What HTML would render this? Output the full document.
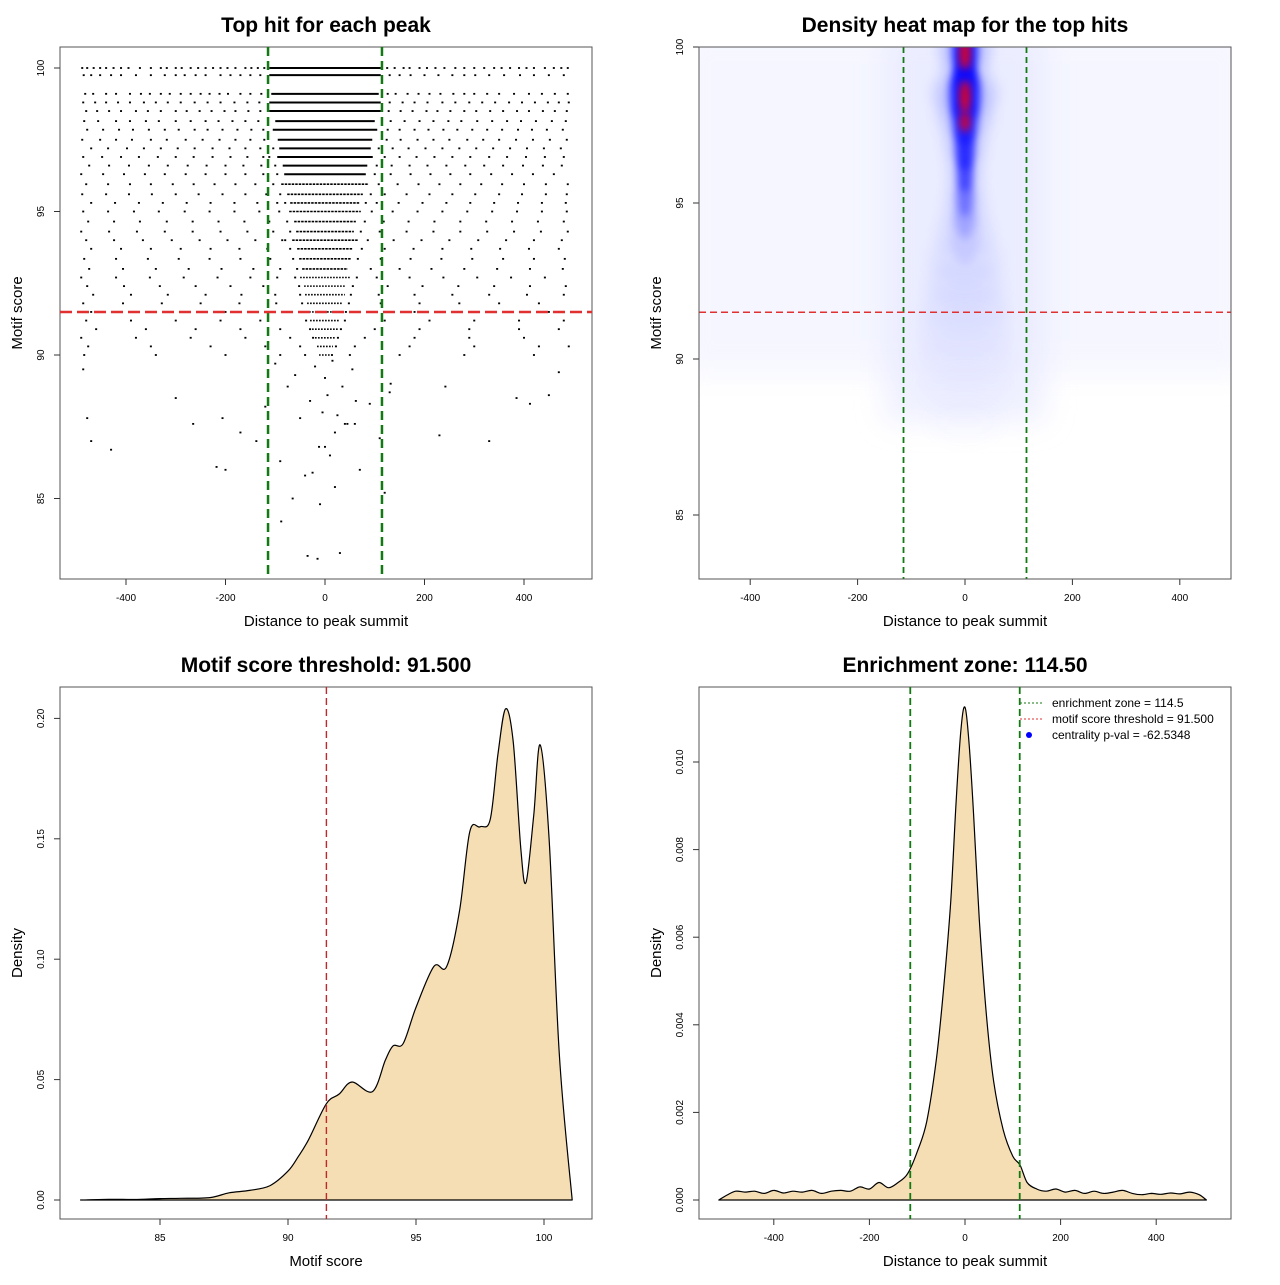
<!DOCTYPE html>
<html><head><meta charset="utf-8"><style>
body{margin:0;background:#fff;font-family:"Liberation Sans",sans-serif}
svg text{font-family:"Liberation Sans",sans-serif}
</style></head><body>
<svg id="root" width="1280" height="1280" xmlns="http://www.w3.org/2000/svg">
<defs>
<filter id="blur" x="-50%" y="-50%" width="200%" height="200%"><feGaussianBlur stdDeviation="7"/></filter>
<filter id="blurS" x="-50%" y="-50%" width="200%" height="200%"><feGaussianBlur stdDeviation="4"/></filter>
<filter id="blur2" x="-50%" y="-50%" width="200%" height="200%"><feGaussianBlur stdDeviation="14"/></filter>
<clipPath id="clip2"><rect x="699" y="47" width="532" height="532"/></clipPath>
</defs>
</svg>
<script>
// ---- Panel 1 data: scatter rows ----
const rowScores=[100,99.75,99.1,98.8,98.5,98.15,97.85,97.5,97.2,96.9,96.6,96.3,95.95,95.6,95.3,95.0,94.65,94.3,94.0,93.7,93.35,93.0,92.7,92.4,92.1,91.8,91.5,91.2,90.9,90.6,90.3,90.0];
const coreHalf=[112,112,108,112,112,100,105,95,92,96,85,82,88,76,70,72,62,58,66,56,52,46,50,42,40,36,32,30,26,20,16,12];
const rowOuter=[
[-488,-478,-465,-452,-440,-425,-410,-395,-372,-350,-330,-318,-300,-288,-270,-255,-240,-225,-210,-196,-180,-160,-148,-135,-122,125,140,158,170,190,205,222,240,262,280,300,320,340,355,372,390,405,420,442,460,475,488],
[-485,-470,-452,-430,-410,-380,-350,-322,-300,-282,-260,-240,-210,-190,-170,-150,-130,130,150,172,200,228,256,280,302,330,360,392,420,450,480],
[-482,-466,-440,-420,-392,-370,-352,-330,-312,-290,-270,-250,-232,-212,-195,-170,-150,-128,126,142,166,188,210,232,258,280,300,326,350,380,410,436,462,488],
[-486,-462,-440,-416,-392,-364,-340,-316,-290,-262,-236,-210,-182,-156,-132,130,156,180,206,236,262,290,316,342,370,396,422,448,470,490],
[-480,-458,-434,-410,-380,-356,-330,-300,-278,-252,-228,-202,-180,-154,-130,128,152,176,204,226,252,280,304,332,358,386,410,438,462,486],
[-484,-456,-420,-392,-360,-334,-300,-270,-240,-214,-186,-160,-134,132,160,190,218,248,274,306,336,366,394,424,456,484],
[-478,-446,-414,-386,-354,-322,-294,-262,-236,-206,-176,-148,-124,126,150,180,208,238,266,296,326,356,388,416,446,478],
[-488,-452,-420,-388,-350,-318,-280,-246,-212,-180,-150,-122,124,152,186,218,250,286,318,350,384,418,452,486],
[-470,-436,-398,-364,-330,-296,-262,-226,-192,-160,-130,-104,108,136,168,202,236,270,304,338,372,406,440,474],
[-486,-448,-410,-374,-336,-300,-264,-226,-190,-156,-124,-112,120,150,184,220,256,292,330,366,404,442,480],
[-474,-434,-394,-354,-316,-276,-238,-200,-164,-128,-100,104,134,170,206,244,282,320,358,398,438,476],
[-490,-446,-404,-362,-322,-280,-240,-200,-160,-124,-96,100,132,172,212,252,292,334,376,418,460],
[-480,-436,-392,-350,-306,-264,-222,-180,-140,-104,108,146,188,230,272,314,356,400,444,488],
[-488,-440,-394,-348,-300,-254,-206,-160,-118,-90,92,120,164,210,256,302,350,396,444,486],
[-470,-422,-374,-326,-278,-230,-182,-136,-96,-80,82,104,148,196,244,292,340,388,436,484],
[-486,-436,-384,-334,-282,-232,-182,-132,-92,94,136,186,236,286,336,386,436,486],
[-476,-424,-372,-318,-266,-214,-162,-112,-76,80,118,168,220,272,324,376,428,480],
[-490,-434,-378,-322,-266,-210,-156,-104,-70,72,110,164,218,272,326,380,434,488],
[-480,-424,-366,-308,-252,-196,-140,-86,-80,86,138,194,250,308,364,420,476],
[-470,-410,-350,-290,-230,-172,-116,-70,74,120,178,236,294,352,410,470],
[-484,-420,-356,-294,-232,-170,-110,-64,66,112,172,234,296,358,420,482],
[-474,-406,-340,-274,-208,-144,-90,-56,92,150,214,280,346,412,478],
[-490,-420,-352,-284,-216,-150,-96,-60,64,104,170,238,306,374,442],
[-478,-404,-332,-260,-190,-124,-52,56,126,196,268,340,412,484],
[-466,-390,-316,-240,-168,-100,-50,52,108,180,256,330,406,480],
[-486,-406,-328,-250,-172,-98,-46,48,112,190,270,350,430],
[-470,-380,-290,-200,-118,-40,42,96,180,270,360,450],
[-480,-390,-300,-210,-130,-38,40,120,210,300,390,480],
[-460,-360,-260,-170,-90,-30,32,100,190,290,390,470],
[-490,-380,-270,-160,-70,-24,26,80,180,290,400],
[-476,-350,-230,-120,-50,22,60,170,300,430,490],
[-484,-340,-200,-90,-40,14,50,150,280,420]
];
const lowX=[-430,-478,-470,-486,-300,-265,-218,-206,-138,-50,-30,-12,5,20,40,62,90,110,130,230,242,330,385,412,450,470,-100,-60,-20,0,15,35,55,-75,-5,25,-120,-170,-40,10,45,-90,-25,70,120,-200,-65,-10,20,-35,30,-15,0,60,-88,132];
const lowS=[86.7,87.8,87.0,89.5,88.5,87.6,86.1,87.8,87.0,87.8,88.4,86.8,88.6,87.3,87.6,88.4,88.3,87.1,88.7,87.2,88.9,87.0,88.5,88.3,88.6,89.4,89.7,89.3,89.6,89.2,89.8,88.9,89.5,88.9,88.0,87.9,88.2,87.3,85.8,86.5,87.6,86.3,85.9,86.0,85.2,86.0,85.0,84.8,85.4,83.0,83.1,82.9,86.8,87.6,84.2,89.0];

// ---- Panel 2 data: heat-map ridge along x=0 ----
const hmScores=[100,99.3,98.5,97.8,97.0,96.3,95.5,94.8,94.0,93.2,92.4,91.6,90.8,90.0,89.0,88.0];
const hmHalfWidth=[20,16,24,20,15,12,12,16,22,28,30,34,36,36,34,30];
const hmIntensity=[1.0,0.95,1.0,0.9,0.85,0.75,0.6,0.45,0.35,0.3,0.28,0.22,0.15,0.1,0.07,0.05];
const hmHot=[100,99.6,98.6,98.2,97.6];

// ---- Panel 3 data: score density ----
const scoreX=[81.9,83,84,85,85.8,86.95,87.7,88.5,89.3,90,90.4,90.8,91.5,92,92.5,93.3,93.8,94.1,94.5,95,95.7,96.2,96.7,97.1,97.5,97.9,98.2,98.5,98.8,99.1,99.3,99.6,99.85,100.2,100.6,101.1];
const scoreD=[0,0.0003,0.0002,0.0006,0.0007,0.001,0.003,0.004,0.006,0.012,0.018,0.025,0.04,0.044,0.049,0.045,0.058,0.064,0.065,0.08,0.097,0.097,0.12,0.153,0.155,0.158,0.185,0.204,0.19,0.145,0.132,0.16,0.189,0.15,0.06,0];
const scoreTicks=[85,90,95,100];
const densTicks3=[0,0.05,0.10,0.15,0.20];

// ---- Panel 4 data: distance density ----
const distX=[-515,-500,-480,-460,-440,-420,-400,-380,-360,-340,-320,-300,-280,-260,-240,-220,-200,-180,-160,-140,-120,-100,-80,-60,-45,-30,-18,-8,0,8,18,30,45,60,80,100,115,130,150,170,190,210,230,250,270,290,310,330,350,370,390,410,430,450,470,490,505];
const distD=[0,0.0001,0.0002,0.00018,0.0002,0.00015,0.00022,0.00016,0.0002,0.00018,0.00022,0.00015,0.0002,0.00022,0.0002,0.0003,0.00025,0.0004,0.00028,0.0004,0.0006,0.0011,0.0018,0.0032,0.0048,0.0068,0.0092,0.0108,0.01125,0.0105,0.0088,0.0064,0.0042,0.0027,0.0016,0.0010,0.0008,0.0004,0.00025,0.0002,0.00025,0.00018,0.00022,0.00015,0.0002,0.00015,0.00018,0.00022,0.00015,0.00012,0.00015,0.00013,0.00016,0.00014,0.00018,0.00012,0];
const distTicks=[-400,-200,0,200,400];
const densTicks4=[0,0.002,0.004,0.006,0.008,0.010];

const NS="http://www.w3.org/2000/svg";
const root=document.getElementById('root');
function mk(tag,attrs,parent,text){const e=document.createElementNS(NS,tag);for(const k in attrs)e.setAttribute(k,attrs[k]);if(text!==undefined)e.textContent=text;(parent||root).appendChild(e);return e;}
function smooth(p){let d='M'+p[0][0].toFixed(1)+','+p[0][1].toFixed(1);
  for(let i=0;i<p.length-1;i++){const a=p[i-1]||p[i],b=p[i],c=p[i+1],e=p[i+2]||c;
    const c1=[b[0]+(c[0]-a[0])/6,b[1]+(c[1]-a[1])/6],c2=[c[0]-(e[0]-b[0])/6,c[1]-(e[1]-b[1])/6];
    d+=` C${c1[0].toFixed(1)},${c1[1].toFixed(1)} ${c2[0].toFixed(1)},${c2[1].toFixed(1)} ${c[0].toFixed(1)},${c[1].toFixed(1)}`;}
  return d+' Z';}

// axis functions
const x1=v=>325+v*0.4975, y1=s=>68+(100-s)*28.7;
const x2=v=>965+v*0.537, y2=s=>47+(100-s)*31.2;
const x3=v=>160+(v-85)*25.6, y3=d=>1200-d*2408;
const x4=v=>965+v*0.478, y4=d=>1200-d*43800;

function panelFrame(name,bx,by,title,xlab,ylab,xt,xtf,yt,ytf,ytxt){
  const g=mk('g',{});
  
  
  const r=mk('rect',{x:bx,y:by,width:532,height:532,fill:'none',stroke:'#555','stroke-width':1},g);
  
  const t=mk('text',{x:bx+266,y:by-15,'text-anchor':'middle','font-size':21,'font-weight':'bold'},g,title);
  
  const xl=mk('text',{x:bx+266,y:by+579,'text-anchor':'middle','font-size':15},g,xlab);
  
  const yl=mk('text',{transform:`translate(${bx-38},${by+266}) rotate(-90)`,'text-anchor':'middle','font-size':15},g,ylab);
  
  xt.forEach(v=>{const px=xtf(v);
    mk('line',{x1:px,x2:px,y1:by+532,y2:by+538,stroke:'#333'},g);
    const tl=mk('text',{x:px,y:by+554,'text-anchor':'middle','font-size':10},g,String(v));
    });
  yt.forEach((v,i)=>{const py=ytf(v);
    mk('line',{x1:bx-6,x2:bx,y1:py,y2:py,stroke:'#333'},g);
    const tl=mk('text',{transform:`translate(${bx-16},${py}) rotate(-90)`,'text-anchor':'middle','font-size':10},g,ytxt[i]);
    });
  return g;
}

// ---------- Panel 1 ----------
const g1=panelFrame('scatter-panel',60,47,'Top hit for each peak','Distance to peak summit','Motif score',distTicks,x1,[85,90,95,100],y1,['85','90','95','100']);
const pts=mk('g',{fill:'#000'},g1);

rowScores.forEach((s,i)=>{
  const py=y1(s);
  const core=mk('line',{x1:x1(-coreHalf[i]),x2:x1(coreHalf[i]),y1:py,y2:py,stroke:'#000','stroke-width':i<12?2:1.6,'stroke-dasharray':i<12?'none':(i<22?'2.5 1':'1.6 1.4')},pts);
  
  rowOuter[i].forEach(v=>{const d=mk('rect',{x:x1(v)-1,y:py-0.9,width:2,height:1.8},pts);
    });
});
lowX.forEach((v,i)=>{const d=mk('rect',{x:x1(v)-1,y:y1(lowS[i])-0.9,width:2,height:1.8},pts);
  });
[-114.5,114.5].forEach(v=>{const l=mk('line',{x1:x1(v),x2:x1(v),y1:47,y2:579,stroke:'#137a13','stroke-width':2.5,'stroke-dasharray':'9 5'},g1);
  });
const th1=mk('line',{x1:60,x2:592,y1:y1(91.5),y2:y1(91.5),stroke:'#e03030','stroke-width':2.5,'stroke-dasharray':'12 5'},g1);


// ---------- Panel 2 ----------
const g2=panelFrame('heatmap-panel',699,47,'Density heat map for the top hits','Distance to peak summit','Motif score',distTicks,x2,[85,90,95,100],y2,['85','90','95','100']);
const hm=mk('g',{'clip-path':'url(#clip2)'},g2);

mk('rect',{x:680,y:30,width:570,height:y2(89.5)-30,fill:'#f2f3ff',opacity:0.7,filter:'url(#blur2)'},hm);
mk('rect',{x:x2(-150),y:30,width:x2(150)-x2(-150),height:y2(88)-30,fill:'#e4e6ff',opacity:0.6,filter:'url(#blur2)'},hm);
hmScores.forEach((s,i)=>{const w=hmHalfWidth[i]*0.537*2.4;
  const c=mk('ellipse',{cx:x2(0),cy:y2(s),rx:w,ry:24,fill:'#9098ff',opacity:hmIntensity[i]*0.45,filter:'url(#blur)'},hm);
  
  const c2=mk('ellipse',{cx:x2(0),cy:y2(s),rx:hmHalfWidth[i]*0.537*1.2,ry:30,fill:'#0000ff',opacity:Math.max(0,(hmIntensity[i]-0.3)*1.2),filter:'url(#blurS)'},hm);
  
});
hmHot.forEach(s=>{
  const r=mk('ellipse',{cx:x2(0),cy:y2(s),rx:5,ry:10,fill:'#ff0000',opacity:0.8,filter:'url(#blurS)'},hm);
  });
[-114.5,114.5].forEach(v=>{const l=mk('line',{x1:x2(v),x2:x2(v),y1:47,y2:579,stroke:'#137a13','stroke-width':1.8,'stroke-dasharray':'6 4'},g2);
  });
const th2=mk('line',{x1:699,x2:1231,y1:y2(91.5),y2:y2(91.5),stroke:'#e03030','stroke-width':1.5,'stroke-dasharray':'7 4'},g2);

mk('rect',{x:699,y:47,width:532,height:532,fill:'none',stroke:'#555'},g2);

// ---------- Panel 3 ----------
const g3=panelFrame('score-density-panel',60,687,'Motif score threshold: 91.500','Motif score','Density',scoreTicks,x3,densTicks3,y3,['0.00','0.05','0.10','0.15','0.20']);
const a3=mk('path',{d:smooth(scoreX.map((v,i)=>[x3(v),y3(scoreD[i])])),fill:'#f5deb3',stroke:'#000','stroke-width':1.2,'stroke-linejoin':'round'},g3);

const th3=mk('line',{x1:x3(91.5),x2:x3(91.5),y1:687,y2:1219,stroke:'#c0282c','stroke-width':1.4,'stroke-dasharray':'7 4'},g3);


// ---------- Panel 4 ----------
const g4=panelFrame('distance-density-panel',699,687,'Enrichment zone: 114.50','Distance to peak summit','Density',distTicks,x4,densTicks4,y4,['0.000','0.002','0.004','0.006','0.008','0.010']);
const a4=mk('path',{d:smooth(distX.map((v,i)=>[x4(v),y4(distD[i])])),fill:'#f5deb3',stroke:'#000','stroke-width':1.2,'stroke-linejoin':'round'},g4);

[-114.5,114.5].forEach(v=>{const l=mk('line',{x1:x4(v),x2:x4(v),y1:687,y2:1219,stroke:'#137a13','stroke-width':1.8,'stroke-dasharray':'7 4'},g4);
  });
const lg=mk('g',{},g4);

const le1=mk('g',{},lg);
mk('line',{x1:1020,x2:1042,y1:703,y2:703,stroke:'#137a13','stroke-dasharray':'2 2'},le1);
mk('text',{x:1052,y:707,'font-size':12},le1,'enrichment zone = 114.5');
const le2=mk('g',{},lg);
mk('line',{x1:1020,x2:1042,y1:719,y2:719,stroke:'#e03030','stroke-dasharray':'2 2'},le2);
mk('text',{x:1052,y:723,'font-size':12},le2,'motif score threshold = 91.500');
const le3=mk('g',{},lg);
mk('circle',{cx:1029,cy:735,r:3,fill:'#0000ff'},le3);
mk('text',{x:1052,y:739,'font-size':12},le3,'centrality p-val = -62.5348');
</script>
</body></html>
